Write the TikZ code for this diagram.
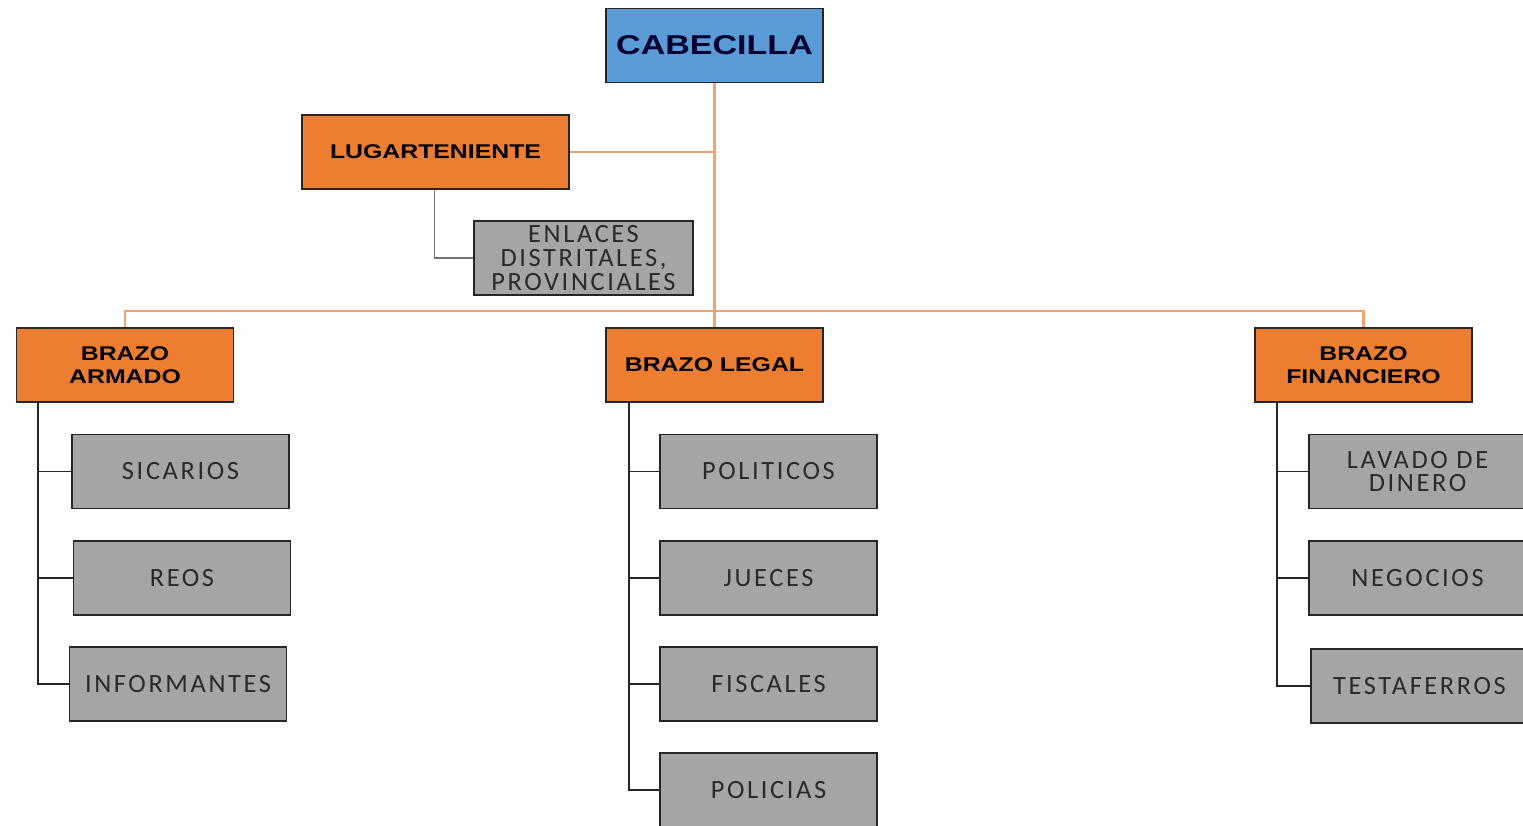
\documentclass[tikz,border=0pt]{standalone}
\usepackage{fontspec}
\newfontfamily\hfont[FakeStretch=1.25]{Liberation Sans}
\newfontfamily\gfont[LetterSpace=10]{Carlito}
\definecolor{cblue}{HTML}{5B9BD5}
\definecolor{corange}{HTML}{ED7D31}
\definecolor{cgray}{HTML}{A5A5A5}
\definecolor{cline}{HTML}{F2A26E}
\definecolor{ctext}{HTML}{2A2A2A}
\begin{document}
\begin{tikzpicture}[x=0.02cm,y=-0.02cm,
  box/.style={draw=black!85,line width=0.8pt,minimum width=4.34cm,minimum height=1.48cm,align=center,inner sep=1pt},
  headbox/.style={box,fill=corange,font=\hfont\bfseries\fontsize{11.3}{13}\selectfont,text=black},
  topbox/.style={box,fill=cblue,font=\hfont\bfseries\fontsize{15.5}{16}\selectfont,text=black!80!blue},
  leafbox/.style={box,fill=cgray,font=\gfont\fontsize{15}{13.4}\selectfont,text=ctext},
  oline/.style={draw=cline,line width=1.2pt},
  kline/.style={draw=black!85,line width=0.9pt},
  gline/.style={draw=black!55,line width=0.7pt}]
\useasboundingbox (0,0) rectangle (1523,825);
\fill[white] (0,0) rectangle (1523,825);
% nodes
\node[topbox] (cab) at (714.5,45.5) {CABECILLA};
\node[headbox,minimum width=5.34cm] (lug) at (435.5,152) {LUGARTENIENTE};
\node[leafbox,minimum width=4.38cm] (enl) at (583.5,258) {ENLACES\\DISTRITALES,\\PROVINCIALES};
\node[headbox] (arm) at (125,365) {BRAZO\\ARMADO};
\node[headbox] (leg) at (714.5,365) {BRAZO LEGAL};
\node[headbox] (fin) at (1363.5,365) {BRAZO\\FINANCIERO};
\node[leafbox] (sic) at (180.5,471.5) {SICARIOS};
\node[leafbox] (reo) at (182,578) {REOS};
\node[leafbox] (inf) at (178,684) {INFORMANTES};
\node[leafbox] (pol) at (768.5,471.5) {POLITICOS};
\node[leafbox] (jue) at (768.5,578) {JUECES};
\node[leafbox] (fis) at (768.5,684) {FISCALES};
\node[leafbox] (pcs) at (768.5,790) {POLICIAS};
\node[leafbox] (lav) at (1417.5,471.5) {LAVADO DE\\DINERO};
\node[leafbox] (neg) at (1417.5,578) {NEGOCIOS};
\node[leafbox] (tes) at (1419.5,686) {TESTAFERROS};
% orange connectors
\coordinate (bar) at (714.5,311);
\draw[oline] (cab.south) -- (leg.north);
\draw[oline] (lug.east) -- (lug.east -| cab.south);
\draw[oline] (arm.north) |- (bar) -| (fin.north);
% enlaces connector
\draw[gline] ([xshift=-0.02cm]lug.south) |- (enl.west);
% children connectors
\coordinate (ka) at ([xshift=-1.74cm]arm.south);
\coordinate (kl) at ([xshift=-1.71cm]leg.south);
\coordinate (kf) at ([xshift=-1.73cm]fin.south);
\draw[kline] (ka) |- (sic.west);
\draw[kline] (ka) |- (reo.west);
\draw[kline] (ka) |- (inf.west);
\draw[kline] (kl) |- (pol.west);
\draw[kline] (kl) |- (jue.west);
\draw[kline] (kl) |- (fis.west);
\draw[kline] (kl) |- (pcs.west);
\draw[kline] (kf) |- (lav.west);
\draw[kline] (kf) |- (neg.west);
\draw[kline] (kf) |- (tes.west);
\end{tikzpicture}
\end{document}
